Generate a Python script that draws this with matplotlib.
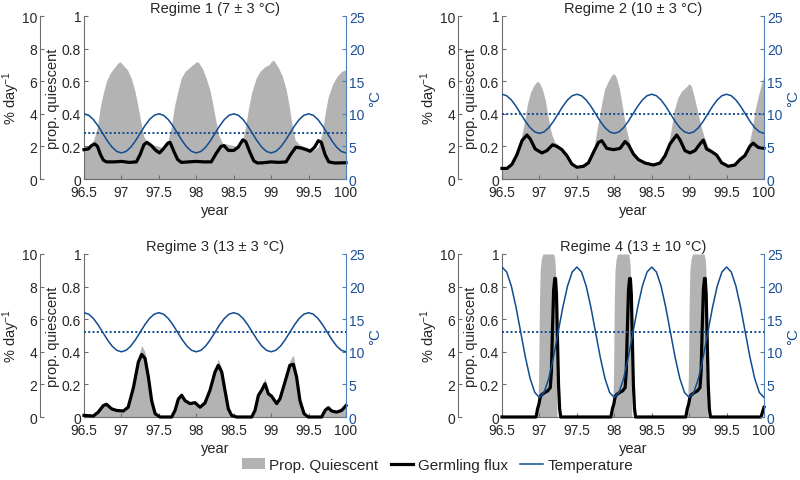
import numpy as np
import matplotlib
matplotlib.use("Agg")
import matplotlib.pyplot as plt
from matplotlib.patches import Patch
from matplotlib.lines import Line2D

plt.rcParams['font.family'] = ['Liberation Sans', 'DejaVu Sans']
plt.rcParams['mathtext.default'] = 'regular'

# ---------------- data ----------------
titles = ['Regime 1 (7 ± 3 °C)', 'Regime 2 (10 ± 3 °C)',
          'Regime 3 (13 ± 3 °C)', 'Regime 4 (13 ± 10 °C)']
mean_temp = [7, 10, 13, 13]
year_ticks = [96.5, 97, 97.5, 98, 98.5, 99, 99.5, 100]
year_labels = ['96.5', '97', '97.5', '98', '98.5', '99', '99.5', '100']

# temperature, sampled every 1/16 year from 96.5 to 100
temp_years = np.linspace(96.5, 100, 57)
temp1 = [10.0, 9.77, 9.12, 8.15, 7.0, 5.85, 4.88, 4.23, 4.0, 4.23, 4.88, 5.85, 7.0, 8.15, 9.12, 9.77,
         10.0, 9.77, 9.12, 8.15, 7.0, 5.85, 4.88, 4.23, 4.0, 4.23, 4.88, 5.85, 7.0, 8.15, 9.12, 9.77,
         10.0, 9.77, 9.12, 8.15, 7.0, 5.85, 4.88, 4.23, 4.0, 4.23, 4.88, 5.85, 7.0, 8.15, 9.12, 9.77,
         10.0, 9.77, 9.12, 8.15, 7.0, 5.85, 4.88, 4.23, 4.0]
temp2 = [13.0, 12.77, 12.12, 11.15, 10.0, 8.85, 7.88, 7.23, 7.0, 7.23, 7.88, 8.85, 10.0, 11.15, 12.12, 12.77,
         13.0, 12.77, 12.12, 11.15, 10.0, 8.85, 7.88, 7.23, 7.0, 7.23, 7.88, 8.85, 10.0, 11.15, 12.12, 12.77,
         13.0, 12.77, 12.12, 11.15, 10.0, 8.85, 7.88, 7.23, 7.0, 7.23, 7.88, 8.85, 10.0, 11.15, 12.12, 12.77,
         13.0, 12.77, 12.12, 11.15, 10.0, 8.85, 7.88, 7.23, 7.0]
temp3 = [16.0, 15.77, 15.12, 14.15, 13.0, 11.85, 10.88, 10.23, 10.0, 10.23, 10.88, 11.85, 13.0, 14.15, 15.12, 15.77,
         16.0, 15.77, 15.12, 14.15, 13.0, 11.85, 10.88, 10.23, 10.0, 10.23, 10.88, 11.85, 13.0, 14.15, 15.12, 15.77,
         16.0, 15.77, 15.12, 14.15, 13.0, 11.85, 10.88, 10.23, 10.0, 10.23, 10.88, 11.85, 13.0, 14.15, 15.12, 15.77,
         16.0, 15.77, 15.12, 14.15, 13.0, 11.85, 10.88, 10.23, 10.0]
temp4 = [23.0, 22.24, 20.07, 16.83, 13.0, 9.17, 5.93, 3.76, 3.0, 3.76, 5.93, 9.17, 13.0, 16.83, 20.07, 22.24,
         23.0, 22.24, 20.07, 16.83, 13.0, 9.17, 5.93, 3.76, 3.0, 3.76, 5.93, 9.17, 13.0, 16.83, 20.07, 22.24,
         23.0, 22.24, 20.07, 16.83, 13.0, 9.17, 5.93, 3.76, 3.0, 3.76, 5.93, 9.17, 13.0, 16.83, 20.07, 22.24,
         23.0, 22.24, 20.07, 16.83, 13.0, 9.17, 5.93, 3.76, 3.0]

# proportion quiescent (grey area)
quies1_x = [96.5, 96.58, 96.63, 96.68, 96.72, 96.76, 96.8, 96.85, 96.9, 96.95, 96.98, 97.02, 97.08,
            97.13, 97.18, 97.22, 97.26, 97.3, 97.35, 97.42, 97.5, 97.56, 97.62, 97.67, 97.71, 97.75,
            97.8, 97.85, 97.9, 97.95, 97.98, 98.0, 98.03, 98.08, 98.13, 98.18, 98.22, 98.26, 98.3,
            98.35, 98.45, 98.55, 98.6, 98.65, 98.7, 98.74, 98.8, 98.85, 98.92, 98.97, 99.0, 99.03,
            99.06, 99.1, 99.15, 99.2, 99.24, 99.28, 99.32, 99.38, 99.5, 99.58, 99.63, 99.68, 99.72,
            99.76, 99.82, 99.88, 99.94, 100.0]
quies1 = [0.2, 0.21, 0.24, 0.32, 0.45, 0.53, 0.6, 0.65, 0.68, 0.71, 0.72, 0.7, 0.67,
          0.62, 0.54, 0.45, 0.35, 0.26, 0.22, 0.21, 0.2, 0.19, 0.23, 0.33, 0.45, 0.53,
          0.62, 0.66, 0.68, 0.7, 0.71, 0.72, 0.715, 0.68, 0.62, 0.55, 0.46, 0.36, 0.27,
          0.22, 0.21, 0.2, 0.21, 0.3, 0.44, 0.53, 0.62, 0.66, 0.69, 0.7, 0.72, 0.73,
          0.71, 0.68, 0.63, 0.55, 0.45, 0.33, 0.24, 0.21, 0.19, 0.18, 0.2, 0.28, 0.4,
          0.5, 0.58, 0.63, 0.66, 0.67]
quies2_x = [96.5, 96.6, 96.67, 96.73, 96.76, 96.8, 96.84, 96.88, 96.92, 96.97, 97.0, 97.04, 97.08,
            97.12, 97.16, 97.2, 97.25, 97.3, 97.37, 97.43, 97.5, 97.6, 97.66, 97.72, 97.75, 97.79,
            97.83, 97.87, 97.92, 97.97, 98.0, 98.03, 98.07, 98.11, 98.15, 98.19, 98.23, 98.3, 98.4,
            98.52, 98.61, 98.68, 98.73, 98.77, 98.8, 98.85, 98.9, 98.95, 99.0, 99.03, 99.07, 99.12,
            99.16, 99.2, 99.25, 99.3, 99.37, 99.43, 99.52, 99.61, 99.68, 99.74, 99.8, 99.84, 99.88,
            99.93, 99.97, 100.0]
quies2 = [0.07, 0.08, 0.13, 0.2, 0.26, 0.35, 0.46, 0.53, 0.57, 0.6, 0.59, 0.55, 0.48,
          0.37, 0.28, 0.23, 0.21, 0.19, 0.15, 0.1, 0.08, 0.085, 0.11, 0.17, 0.25, 0.36,
          0.46, 0.55, 0.6, 0.64, 0.645, 0.62, 0.55, 0.44, 0.33, 0.25, 0.18, 0.13, 0.1,
          0.09, 0.1, 0.15, 0.23, 0.33, 0.42, 0.5, 0.54, 0.56, 0.585, 0.57, 0.5, 0.4,
          0.32, 0.26, 0.2, 0.18, 0.155, 0.11, 0.085, 0.09, 0.13, 0.16, 0.22, 0.3, 0.42,
          0.52, 0.59, 0.63]
quies3_x = [96.5, 96.625, 96.69, 96.758, 96.8, 96.87, 96.936, 97.025, 97.09, 97.16, 97.226, 97.27,
            97.315, 97.36, 97.404, 97.45, 97.515, 97.67, 97.716, 97.76, 97.805, 97.85, 97.916,
            97.983, 98.05, 98.116, 98.183, 98.25, 98.294, 98.34, 98.383, 98.428, 98.472, 98.54,
            98.74, 98.784, 98.83, 98.873, 98.918, 98.962, 99.007, 99.074, 99.118, 99.185, 99.25,
            99.296, 99.34, 99.385, 99.44, 99.496, 99.674, 99.72, 99.763, 99.808, 99.875, 99.94, 100.0]
quies3 = [0.012, 0.01, 0.035, 0.075, 0.085, 0.055, 0.045, 0.042, 0.065, 0.19, 0.36, 0.44,
          0.4, 0.27, 0.11, 0.025, 0.008, 0.008, 0.045, 0.12, 0.15, 0.11, 0.09,
          0.095, 0.065, 0.09, 0.175, 0.3, 0.355, 0.3, 0.175, 0.055, 0.012, 0.008,
          0.008, 0.045, 0.14, 0.18, 0.24, 0.155, 0.14, 0.088, 0.12, 0.23, 0.345,
          0.38, 0.27, 0.11, 0.025, 0.008, 0.008, 0.045, 0.062, 0.04, 0.033, 0.045, 0.075]
quies4_x = [96.5, 96.975, 96.99, 97.0, 97.01, 97.025, 97.045, 97.19, 97.205, 97.215, 97.222, 97.228, 97.235,
            97.975, 97.99, 98.0, 98.01, 98.025, 98.045, 98.19, 98.205, 98.215, 98.222, 98.228, 98.235,
            98.975, 98.99, 99.0, 99.01, 99.025, 99.045, 99.2, 99.215, 99.225, 99.232, 99.238, 99.245,
            100.0]
quies4 = [0, 0, 0.25, 0.7, 0.9, 0.97, 1.0, 1.0, 0.97, 0.9, 0.6, 0.2, 0,
          0, 0.25, 0.7, 0.9, 0.97, 1.0, 1.0, 0.97, 0.9, 0.6, 0.2, 0,
          0, 0.25, 0.7, 0.9, 0.97, 1.0, 1.0, 0.97, 0.9, 0.6, 0.2, 0,
          0]

# germling flux (% per day)
flux1_x = [96.5, 96.56, 96.6, 96.645, 96.68, 96.72, 96.76, 96.8, 96.9, 97.0, 97.1, 97.2, 97.25,
           97.3, 97.34, 97.4, 97.46, 97.51, 97.56, 97.62, 97.65, 97.7, 97.75, 97.8, 97.9, 98.0,
           98.1, 98.2, 98.27, 98.33, 98.37, 98.43, 98.5, 98.56, 98.62, 98.66, 98.72, 98.77, 98.82,
           98.9, 99.0, 99.1, 99.2, 99.26, 99.33, 99.4, 99.47, 99.52, 99.58, 99.63, 99.67, 99.72,
           99.77, 99.85, 100.0]
flux1 = [1.8, 1.85, 2.05, 2.15, 2.0, 1.5, 1.15, 1.05, 1.05, 1.08, 1.02, 1.05, 1.5,
         2.1, 2.25, 2.05, 1.75, 1.6, 1.85, 2.2, 2.25, 1.7, 1.2, 1.02, 1.05, 1.08,
         1.05, 1.05, 1.6, 2.0, 2.05, 1.75, 1.75, 1.95, 2.4, 2.3, 1.6, 1.1, 0.98,
         1.0, 1.05, 1.02, 1.05, 1.5, 1.95, 1.9, 1.8, 1.7, 1.95, 2.35, 2.25, 1.5,
         1.05, 0.98, 1.0]
flux2_x = [96.5, 96.567, 96.633, 96.7, 96.767, 96.833, 96.878, 96.944, 97.033, 97.1, 97.175, 97.233,
           97.3, 97.367, 97.433, 97.5, 97.589, 97.656, 97.722, 97.789, 97.833, 97.9, 97.989, 98.078,
           98.144, 98.189, 98.256, 98.322, 98.411, 98.522, 98.611, 98.678, 98.744, 98.833, 98.878,
           98.944, 99.011, 99.078, 99.144, 99.189, 99.233, 99.3, 99.367, 99.433, 99.522, 99.611,
           99.678, 99.744, 99.811, 99.856, 99.922, 100.0]
flux2 = [0.65, 0.65, 0.9, 1.5, 2.35, 2.7, 2.45, 1.84, 1.6, 1.74, 2.1, 2.0,
         1.8, 1.43, 0.92, 0.72, 0.78, 1.0, 1.64, 2.25, 2.35, 1.88, 1.8, 1.88,
         2.3, 2.1, 1.53, 1.19, 0.98, 0.86, 0.98, 1.43, 2.15, 2.7, 2.4,
         1.74, 1.6, 1.74, 2.15, 2.39, 1.84, 1.68, 1.47, 1.0, 0.78, 0.86,
         1.19, 1.43, 2.0, 2.2, 1.94, 1.88]
flux3_x = quies3_x
flux3 = [0.1, 0.06, 0.3, 0.7, 0.78, 0.5, 0.4, 0.37, 0.6, 1.8, 3.37, 3.84,
         3.6, 2.45, 1.0, 0.2, 0.0, 0.0, 0.4, 1.1, 1.33, 1.0, 0.82,
         0.88, 0.6, 0.86, 1.64, 2.76, 3.17, 2.76, 1.64, 0.5, 0.1, 0.0,
         0.0, 0.4, 1.33, 1.64, 2.04, 1.43, 1.27, 0.82, 1.12, 2.15, 3.17,
         3.23, 2.45, 1.0, 0.2, 0.0, 0.0, 0.4, 0.57, 0.37, 0.3, 0.4, 0.7]
flux4_x = [96.5, 96.955, 96.975, 96.994, 97.01, 97.025, 97.07, 97.11, 97.145, 97.16, 97.175, 97.19,
           97.205, 97.215, 97.228, 97.24, 97.255, 97.27, 97.285,
           97.955, 97.975, 97.994, 98.01, 98.025, 98.07, 98.11, 98.145, 98.16, 98.175, 98.19,
           98.205, 98.215, 98.228, 98.24, 98.255, 98.27, 98.285,
           98.955, 98.975, 98.994, 99.01, 99.025, 99.07, 99.11, 99.145, 99.16, 99.175, 99.19,
           99.205, 99.215, 99.228, 99.24, 99.255, 99.27, 99.285, 99.96, 100.0]
flux4 = [0, 0, 0.5, 0.8, 1.2, 1.35, 1.5, 1.6, 1.8, 2.8, 5.5, 7.8,
         8.5, 8.5, 7.5, 5.0, 2.0, 0.5, 0,
         0, 0.5, 0.8, 1.2, 1.35, 1.5, 1.6, 1.8, 2.8, 5.5, 7.8,
         8.5, 8.5, 7.5, 5.0, 2.0, 0.5, 0,
         0, 0.5, 0.8, 1.2, 1.35, 1.5, 1.6, 1.8, 2.8, 5.5, 7.8,
         8.5, 8.5, 7.5, 5.0, 2.0, 0.5, 0, 0, 0.6]

quies_x = [quies1_x, quies2_x, quies3_x, quies4_x]
quies = [quies1, quies2, quies3, quies4]
flux_x = [flux1_x, flux2_x, flux3_x, flux4_x]
flux = [flux1, flux2, flux3, flux4]
temps = [temp1, temp2, temp3, temp4]

# ---------------- drawing ----------------
W, H = 800, 481
fig = plt.figure(figsize=(W / 100, H / 100), dpi=100)

grey_fill = '#b3b3b3'
blue = '#114c90'
blue_axis = '#4f7fb8'
axis_grey = '#6e6e6e'
text_col = '#262626'
fs = 10

# panel rectangles in pixels: left, top, width, height
rects = [(84, 17, 262, 163), (502, 17, 262, 163), (84, 255, 262, 163), (502, 255, 262, 163)]

for i in range(4):
    l, t, w, h = rects[i]
    ax = fig.add_axes([l / W, 1 - (t + h) / H, w / W, h / H])
    ax.fill_between(quies_x[i], quies[i], 0, color=grey_fill, lw=0)
    ax.set_xlim(96.5, 100)
    ax.set_ylim(0, 1)
    ax.set_xticks(year_ticks)
    ax.set_xticklabels(year_labels)
    ax.set_yticks([0, 0.2, 0.4, 0.6, 0.8, 1])
    ax.set_yticklabels(['0', '0.2', '0.4', '0.6', '0.8', '1'])
    for s in ['top', 'right']:
        ax.spines[s].set_visible(False)
    for s in ['left', 'bottom']:
        ax.spines[s].set_color(axis_grey)
        ax.spines[s].set_linewidth(0.8)
    ax.tick_params(direction='in', length=3, color=axis_grey, labelcolor=text_col,
                   labelsize=fs, pad=2)
    ax.tick_params(axis='x', pad=4)
    ax.set_xlabel('year', fontsize=fs + 0.5, color=text_col, labelpad=3)
    ax.set_ylabel('prop. quiescent', fontsize=fs + 0.5, color=text_col, labelpad=1)
    ax.set_title(titles[i], fontsize=fs + 0.5, color=text_col, pad=3)

    # outer axis: germling flux in % per day
    axp = ax.twinx()
    axp.plot(flux_x[i], flux[i], color='black', lw=2.3, clip_on=False, zorder=3)
    axp.set_ylim(0, 10)
    axp.set_yticks([0, 2, 4, 6, 8, 10])
    axp.yaxis.set_ticks_position('left')
    axp.yaxis.set_label_position('left')
    axp.spines['left'].set_visible(True)
    axp.spines['left'].set_position(('outward', 44 * 72 / 100))
    axp.spines['left'].set_color(axis_grey)
    axp.spines['left'].set_linewidth(0.8)
    for s in ['top', 'right', 'bottom']:
        axp.spines[s].set_visible(False)
    axp.tick_params(direction='in', length=3, color=axis_grey, labelcolor=text_col,
                    labelsize=fs, pad=2)
    axp.set_ylabel('% day$^{-1}$', fontsize=fs + 0.5, color=text_col, labelpad=0)

    # right axis: temperature
    axt = ax.twinx()
    axt.plot(temp_years, temps[i], color=blue, lw=1.1, zorder=4)
    axt.axhline(mean_temp[i], color=blue, lw=1.4, ls=(0, (1, 1.2)), zorder=4)
    axt.set_ylim(0, 25)
    axt.set_yticks([0, 5, 10, 15, 20, 25])
    for s in ['top', 'left', 'bottom']:
        axt.spines[s].set_visible(False)
    axt.spines['right'].set_color(blue_axis)
    axt.spines['right'].set_linewidth(0.8)
    axt.tick_params(direction='in', length=3, color=blue_axis, labelcolor='#1a4f94',
                    labelsize=fs, pad=2)
    axt.set_ylabel('°C', fontsize=fs + 1, color='#1a4f94', labelpad=3)

handles = [Patch(facecolor=grey_fill, edgecolor='none'),
           Line2D([], [], color='black', lw=2.3),
           Line2D([], [], color=blue, lw=1.1)]
fig.legend(handles, ['Prop. Quiescent', 'Germling flux', 'Temperature'],
           loc='center', bbox_to_anchor=(0.547, 1 - 466 / H), ncol=3, frameon=False,
           fontsize=11, handlelength=1.5, handletextpad=0.3, columnspacing=0.8,
           labelcolor=text_col)

fig.savefig('out.png', dpi=100)
